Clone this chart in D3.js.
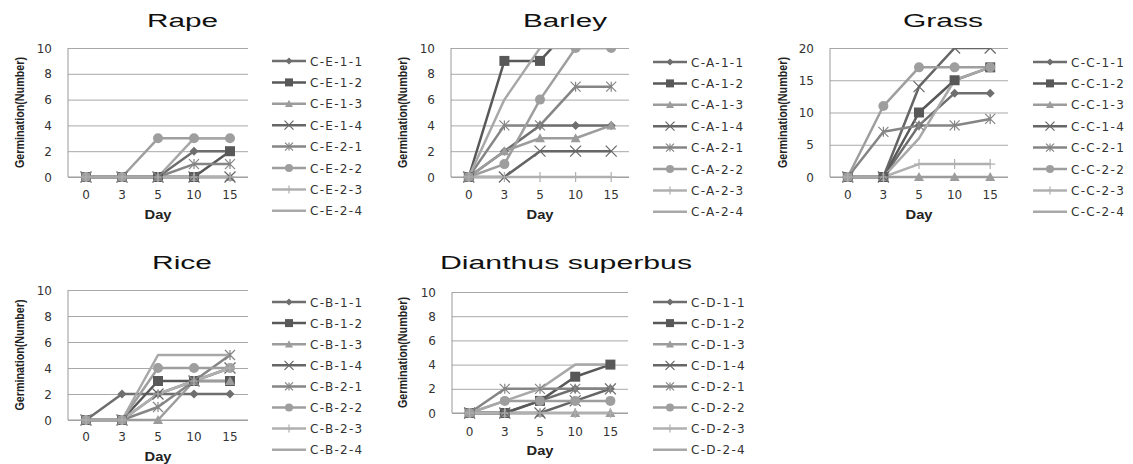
<!DOCTYPE html>
<html>
<head>
<meta charset="utf-8">
<script src="https://cdn.jsdelivr.net/npm/d3@7"></script>
<style>
  body { margin: 0; background: #fff; }
  svg { display: block; }
</style>
</head>
<body>
<svg id="chart" width="1133" height="464"></svg>
<script>
// days on the x axis
const days = ["0", "3", "5", "10", "15"];
const seriesSuffix = ["1-1", "1-2", "1-3", "1-4", "2-1", "2-2", "2-3", "2-4"];

// germination counts, one row per series (suffix order above)
const rapeValues = [
  [0, 0, 0, 2, 2],
  [0, 0, 0, 0, 2],
  [0, 0, 0, 0, 0],
  [0, 0, 0, 0, 0],
  [0, 0, 0, 1, 1],
  [0, 0, 3, 3, 3],
  [0, 0, 0, 0, 0],
  [0, 0, 0, 3, 3]
];
const barleyValues = [
  [0, 2, 4, 4, 4],
  [0, 9, 9, 12, 12],
  [0, 2, 3, 3, 4],
  [0, 0, 2, 2, 2],
  [0, 4, 4, 7, 7],
  [0, 1, 6, 10, 10],
  [0, 0, 0, 0, 0],
  [0, 6, 10, 10, 10]
];
const grassValues = [
  [0, 0, 8, 13, 13],
  [0, 0, 10, 15, 17],
  [0, 0, 0, 0, 0],
  [0, 0, 14, 20, 20],
  [0, 7, 8, 8, 9],
  [0, 11, 17, 17, 17],
  [0, 0, 2, 2, 2],
  [0, 0, 6, 15, 17]
];
const riceValues = [
  [0, 2, 2, 2, 2],
  [0, 0, 3, 3, 3],
  [0, 0, 0, 3, 3],
  [0, 0, 2, 3, 4],
  [0, 0, 1, 3, 5],
  [0, 0, 4, 4, 4],
  [0, 0, 2, 3, 4],
  [0, 0, 5, 5, 5]
];
const dianthusValues = [
  [0, 0, 1, 2, 2],
  [0, 0, 1, 3, 4],
  [0, 0, 0, 0, 0],
  [0, 0, 0, 1, 2],
  [0, 2, 2, 2, 2],
  [0, 1, 1, 1, 1],
  [0, 0, 0, 0, 0],
  [0, 1, 2, 4, 4]
];

// series look (Excel grayscale style)
const seriesColor = ["#6e6e6e", "#585858", "#9c9c9c", "#666666", "#858585", "#9e9e9e", "#b0b0b0", "#a8a8a8"];
const seriesMarker = ["diamond", "square", "triangle", "x", "star", "circle", "plus", "none"];

// panel placement
const panels = [
  { title: "Rape", prefix: "C-E-", values: rapeValues, yMax: 10, yStep: 2,
    x0: 68, x1: 248, y0: 48, y1: 177, titleX: 182.5, titleY: 27, titleW: 71, tickY: 199, dayY: 219, yTitleX: 24, legX: 272, legY: 61, legStep: 21.4 },
  { title: "Barley", prefix: "C-A-", values: barleyValues, yMax: 10, yStep: 2,
    x0: 451, x1: 629, y0: 48, y1: 177, titleX: 565, titleY: 27, titleW: 84, tickY: 199, dayY: 219, yTitleX: 407, legX: 653, legY: 62, legStep: 21.4 },
  { title: "Grass", prefix: "C-C-", values: grassValues, yMax: 20, yStep: 5,
    x0: 830, x1: 1008, y0: 48, y1: 177, titleX: 943, titleY: 27, titleW: 80, tickY: 199, dayY: 219, yTitleX: 787, legX: 1033, legY: 62, legStep: 21.4 },
  { title: "Rice", prefix: "C-B-", values: riceValues, yMax: 10, yStep: 2,
    x0: 68, x1: 248, y0: 290, y1: 420, titleX: 182, titleY: 269, titleW: 60, tickY: 441, dayY: 461, yTitleX: 24, legX: 272, legY: 302, legStep: 21.1 },
  { title: "Dianthus superbus", prefix: "C-D-", values: dianthusValues, yMax: 10, yStep: 2,
    x0: 452, x1: 628, y0: 292, y1: 413, titleX: 566, titleY: 269, titleW: 252, tickY: 436, dayY: 455, yTitleX: 407, legX: 653, legY: 302, legStep: 21.1 }
];

const svg = d3.select("#chart");
const font = "'DejaVu Sans', Verdana, sans-serif";
const sans = "'Liberation Sans', Arial, sans-serif";

function markerPath(type, s) {
  const h = s / 2;
  switch (type) {
    case "diamond": return `M0,${-h}L${h},0L0,${h}L${-h},0Z`;
    case "square": return `M${-h},${-h}H${h}V${h}H${-h}Z`;
    case "triangle": return `M0,${-h}L${h},${h * 0.8}L${-h},${h * 0.8}Z`;
    case "circle": return d3.symbol(d3.symbolCircle, Math.PI * h * h)();
    case "x": return `M${-h},${-h}L${h},${h}M${-h},${h}L${h},${-h}`;
    case "star": return `M${-h},${-h}L${h},${h}M${-h},${h}L${h},${-h}M0,${-h}V${h}`;
    case "plus": return `M0,${-h}V${h}M${-h},0H${h}`;
    default: return "";
  }
}
const filled = t => t === "diamond" || t === "square" || t === "triangle" || t === "circle";
const markerSize = { diamond: 9, square: 10, triangle: 10, circle: 10, x: 11, star: 10, plus: 10 };

panels.forEach((p, pi) => {
  const g = svg.append("g");

  const x = d3.scaleBand().domain(days).range([p.x0, p.x1]);
  const y = d3.scaleLinear().domain([0, p.yMax]).range([p.y1, p.y0]);
  const ticks = d3.range(0, p.yMax + 0.001, p.yStep);

  // gridlines
  g.append("g")
    .attr("transform", `translate(${p.x0},0)`)
    .call(d3.axisLeft(y).tickValues(ticks).tickSize(-(p.x1 - p.x0)).tickFormat(""))
    .call(a => a.select(".domain").remove())
    .call(a => a.selectAll("line").attr("stroke", "#a8a8a8").attr("stroke-width", 1));

  // axis lines
  g.append("line").attr("x1", p.x0).attr("x2", p.x0).attr("y1", p.y0).attr("y2", p.y1)
    .attr("stroke", "#9a9a9a");
  g.append("line").attr("x1", p.x0).attr("x2", p.x1).attr("y1", p.y1).attr("y2", p.y1)
    .attr("stroke", "#9a9a9a");

  // y tick labels
  g.selectAll(".ytl").data(ticks).join("text")
    .attr("x", p.x0 - 16).attr("y", d => y(d) + 4.5)
    .attr("text-anchor", "end")
    .style("font", `12px ${font}`).attr("fill", "#333")
    .text(d => d);

  // x tick labels
  g.selectAll(".xtl").data(days).join("text")
    .attr("x", d => x(d) + x.bandwidth() / 2).attr("y", p.tickY)
    .attr("text-anchor", "middle")
    .style("font", `12px ${font}`).attr("fill", "#333")
    .text(d => d);

  // titles (the source picture is stretched sideways)
  g.append("text")
    .attr("x", p.titleX).attr("y", p.titleY)
    .attr("text-anchor", "middle")
    .attr("textLength", p.titleW).attr("lengthAdjust", "spacingAndGlyphs")
    .style("font", `18px ${sans}`).attr("fill", "#111")
    .text(p.title);

  g.append("text")
    .attr("x", (p.x0 + p.x1) / 2).attr("y", p.dayY)
    .attr("text-anchor", "middle")
    .attr("textLength", 27).attr("lengthAdjust", "spacingAndGlyphs")
    .style("font", `bold 12.5px ${sans}`).attr("fill", "#222")
    .text("Day");

  g.append("text")
    .attr("transform", `translate(${p.yTitleX},${(p.y0 + p.y1) / 2}) rotate(-90)`)
    .attr("text-anchor", "middle")
    .attr("textLength", 111).attr("lengthAdjust", "spacingAndGlyphs")
    .style("font", `bold 13px ${sans}`).attr("fill", "#222")
    .text("Germination(Number)");

  // clip for values beyond axis max
  const clipId = "clip" + pi;
  svg.append("clipPath").attr("id", clipId)
    .append("rect").attr("x", p.x0 - 8).attr("y", p.y0).attr("width", p.x1 - p.x0 + 16).attr("height", p.y1 - p.y0 + 8);

  const line = d3.line()
    .x((d, i) => x(days[i]) + x.bandwidth() / 2)
    .y(d => y(d));

  const plot = g.append("g").attr("clip-path", `url(#${clipId})`);

  p.values.forEach((vals, si) => {
    plot.append("path")
      .attr("d", line(vals))
      .attr("fill", "none")
      .attr("stroke", seriesColor[si])
      .attr("stroke-width", 2.5)
      .attr("stroke-linejoin", "round");
  });
  p.values.forEach((vals, si) => {
    const m = seriesMarker[si];
    if (m === "none") return;
    plot.selectAll(null).data(vals.map((v, i) => [i, v]).filter(d => d[1] <= p.yMax)).join("path")
      .attr("transform", d => `translate(${x(days[d[0]]) + x.bandwidth() / 2},${y(d[1])})`)
      .attr("d", markerPath(m, markerSize[m]))
      .attr("fill", filled(m) ? seriesColor[si] : "none")
      .attr("stroke", seriesColor[si])
      .attr("stroke-width", filled(m) ? 0 : 1.2);
  });

  // legend
  const leg = g.append("g");
  seriesSuffix.forEach((s, si) => {
    const ly = p.legY + si * p.legStep;
    leg.append("line").attr("x1", p.legX).attr("x2", p.legX + 34).attr("y1", ly).attr("y2", ly)
      .attr("stroke", seriesColor[si]).attr("stroke-width", 2.5);
    const m = seriesMarker[si];
    if (m !== "none") {
      leg.append("path")
        .attr("transform", `translate(${p.legX + 17},${ly})`)
        .attr("d", markerPath(m, markerSize[m] - 2))
        .attr("fill", filled(m) ? seriesColor[si] : "none")
        .attr("stroke", seriesColor[si])
        .attr("stroke-width", filled(m) ? 0 : 1.2);
    }
    leg.append("text")
      .attr("x", p.legX + 38).attr("y", ly + 4.5)
      .style("font", `12px ${font}`).style("letter-spacing", "1.3px").attr("fill", "#333")
      .text(p.prefix + s);
  });
});
</script>
</body>
</html>
